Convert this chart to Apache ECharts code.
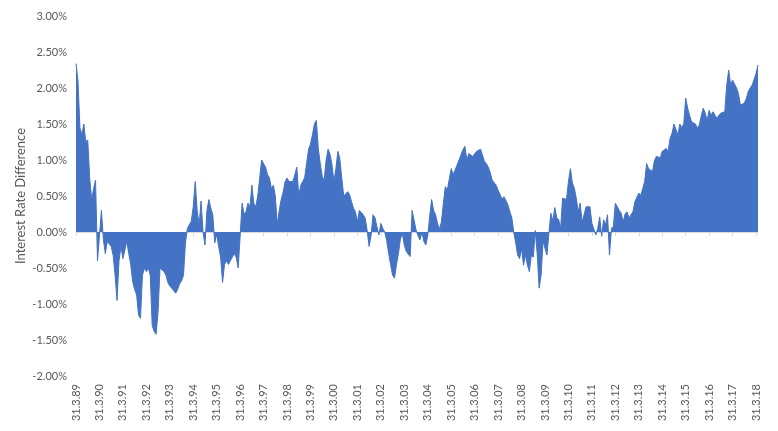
<!DOCTYPE html>
<html><head><meta charset="utf-8">
<script src="https://cdn.jsdelivr.net/npm/echarts@6/dist/echarts.min.js"></script>
<style>html,body{margin:0;padding:0;background:#fff}#c{width:778px;height:431px}</style>
</head><body><div id="c"></div><script>
// Monthly interest rate difference (%), Mar 1989 .. Apr 2018
const values1989to1998 = [
  2.34, 2.1, 1.45, 1.35, 1.5, 1.25, 1.28, 0.75, 0.45, 0.6, 0.72, -0.4,
  -0.05, 0.3, -0.1, -0.3, -0.13, -0.15, -0.2, -0.32, -0.6, -0.95, -0.4, -0.2,
  -0.37, -0.25, -0.13, -0.3, -0.45, -0.69, -0.8, -0.87, -1.15, -1.2, -0.6, -0.5,
  -0.55, -0.5, -0.6, -1.3, -1.38, -1.42, -1.1, -0.5, -0.5, -0.55, -0.6, -0.7,
  -0.75, -0.78, -0.8, -0.85, -0.8, -0.72, -0.68, -0.6, -0.15, 0.05, 0.05, 0.15,
  0.35, 0.7, 0.3, 0.1, 0.43, 0.0, -0.18, 0.3, 0.45, 0.33, 0.24, -0.15,
  -0.03, -0.2, -0.35, -0.7, -0.45, -0.4, -0.45, -0.4, -0.35, -0.3, -0.35, -0.5,
  -0.05, 0.4, 0.25, 0.28, 0.4, 0.35, 0.65, 0.4, 0.35, 0.5, 0.75, 1.0,
  1.0, 0.9, 0.8, 0.75, 0.6, 0.65, 0.5, 0.1, 0.3, 0.45, 0.55, 0.7,
  0.75, 0.7, 0.72, 0.7, 0.8, 0.9, 0.5, 0.65, 0.7, 0.75, 0.95, 1.15
];
const values1999to2008 = [
  1.22, 1.35, 1.5, 1.55, 1.15, 0.95, 0.77, 0.72, 1.0, 1.15, 1.08, 0.93,
  0.7, 0.88, 1.12, 1.02, 0.75, 0.5, 0.51, 0.56, 0.52, 0.42, 0.33, 0.28,
  0.14, 0.3, 0.27, 0.24, 0.19, 0.02, -0.2, -0.05, 0.24, 0.2, 0.07, -0.04,
  0.12, 0.05, 0.0, -0.12, -0.3, -0.45, -0.6, -0.64, -0.45, -0.3, -0.1, -0.02,
  -0.18, -0.27, -0.25, -0.34, 0.3, 0.28, 0.03, -0.05, -0.11, 0.0, -0.13, -0.18,
  -0.05, 0.22, 0.45, 0.3, 0.24, 0.12, 0.04, 0.14, 0.4, 0.63, 0.58, 0.58,
  0.88, 0.8, 0.86, 0.88, 1.0, 0.98, 1.14, 1.19, 1.0, 1.09, 1.07, 1.05,
  1.07, 1.12, 1.14, 1.15, 1.07, 0.98, 0.95, 0.9, 0.82, 0.72, 0.72, 0.65,
  0.58, 0.52, 0.46, 0.49, 0.47, 0.38, 0.28, 0.2, 0.0, -0.15, -0.32, -0.37,
  -0.23, -0.46, -0.32, -0.46, -0.55, -0.32, -0.35, 0.02, -0.3, -0.78, -0.6, -0.13
];
const values2009to2018 = [
  -0.15, -0.32, -0.02, 0.26, 0.15, 0.34, 0.2, 0.17, 0.05, 0.47, 0.49, 0.45,
  0.7, 0.88, 0.68, 0.61, 0.47, 0.28, 0.4, 0.14, 0.24, 0.35, 0.33, 0.35,
  0.12, 0.1, -0.04, 0.05, 0.21, -0.06, 0.17, 0.1, 0.24, -0.32, 0.05, 0.08,
  0.4, 0.42, 0.3, 0.26, 0.14, 0.25, 0.28, 0.19, 0.24, 0.28, 0.42, 0.4,
  0.54, 0.51, 0.6, 0.7, 0.95, 0.88, 0.87, 0.84, 0.99, 1.05, 1.07, 1.03,
  1.12, 1.14, 1.16, 1.12, 1.3, 1.37, 1.5, 1.5, 1.35, 1.5, 1.45, 1.5,
  1.86, 1.72, 1.62, 1.53, 1.53, 1.5, 1.44, 1.49, 1.62, 1.72, 1.65, 1.55,
  1.69, 1.62, 1.67, 1.62, 1.58, 1.62, 1.65, 1.67, 1.67, 2.04, 2.25, 2.04,
  2.11, 2.09, 2.0, 1.92, 1.76, 1.76, 1.79, 1.85, 1.95, 2.0, 2.04, 2.06,
  2.2, 2.32
];
const values = values1989to1998.concat(values1999to2008, values2009to2018);

// Category labels: month-end dates starting 31.3.89
const categories = [];
for (let i = 0; i < values.length; i++) {
  const m0 = 2 + i;
  const month = (m0 % 12) + 1;
  const year = 1989 + Math.floor(m0 / 12);
  const lastDay = new Date(year, month, 0).getDate();
  categories.push(lastDay + '.' + month + '.' + String(year % 100).padStart(2, '0'));
}
const isMarch = (idx) => idx % 12 === 0;

const FONT = 'Lato, "Open Sans", sans-serif';
const TXT = '#595959';

const chart = echarts.init(document.getElementById('c'));
chart.setOption({
  animation: false,
  backgroundColor: '#ffffff',
  grid: { left: 76, right: 20, top: 16, bottom: 55, containLabel: false, outerBoundsMode: 'none' },
  xAxis: [
    {
      type: 'category', data: categories, boundaryGap: false, position: 'bottom',
      axisLine: { show: false, onZero: false },
      axisTick: { show: false },
      splitLine: { show: false },
      axisLabel: { rotate: 90, interval: isMarch, margin: 8, fontFamily: FONT, fontSize: 11, color: TXT }
    },
    {
      type: 'category', data: categories, boundaryGap: false, position: 'top',
      axisLine: { show: true, onZero: true, lineStyle: { color: '#d9d9d9', width: 1 } },
      axisTick: { show: true, inside: true, length: 4, interval: isMarch, lineStyle: { color: '#d9d9d9' } },
      axisLabel: { show: false },
      splitLine: { show: false }
    }
  ],
  yAxis: {
    type: 'value', min: -2, max: 3, interval: 0.5,
    axisLine: { show: false }, axisTick: { show: false }, splitLine: { show: false },
    axisLabel: {
      margin: 9, fontFamily: FONT, fontSize: 11, color: TXT,
      formatter: (v) => (v < 0 ? '-' : '') + Math.abs(v).toFixed(2) + '%'
    },
    name: 'Interest Rate Difference', nameLocation: 'middle', nameGap: 49, nameMoveOverlap: false,
    nameTextStyle: { fontFamily: FONT, fontSize: 13, color: TXT }
  },
  series: [{
    type: 'line', xAxisIndex: 0, data: values, symbol: 'none', showSymbol: false,
    lineStyle: { color: '#4472C4', width: 1 },
    areaStyle: { color: '#4472C4', opacity: 1 },
    itemStyle: { color: '#4472C4' }
  }]
});
</script></body></html>
